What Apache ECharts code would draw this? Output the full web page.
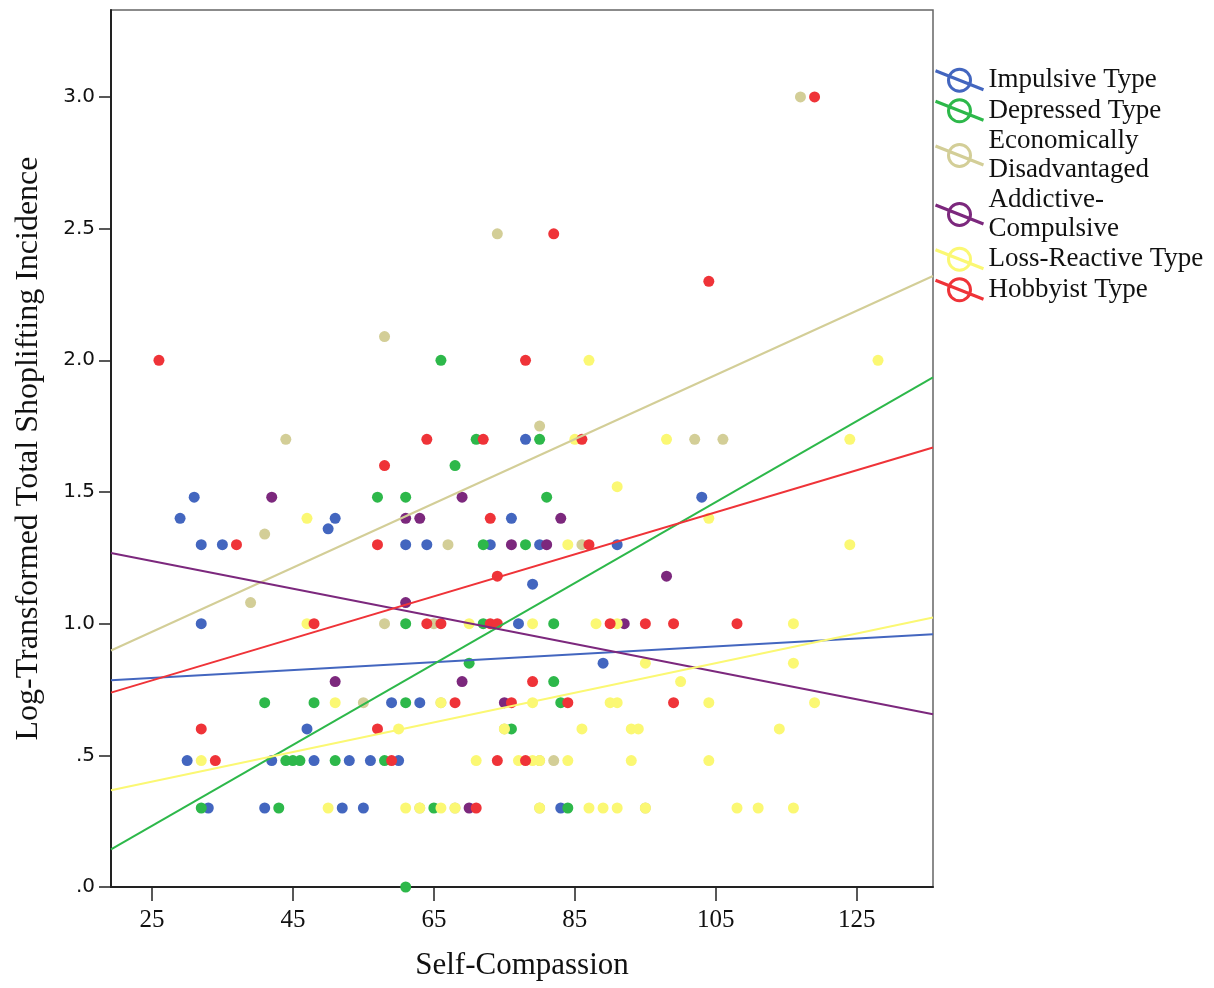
<!DOCTYPE html>
<html><head><meta charset="utf-8">
<script src="https://cdn.jsdelivr.net/npm/echarts@6/dist/echarts.min.js"></script>
<style>html,body{margin:0;padding:0;background:#fff}#c{width:1214px;height:988px}</style>
</head><body><div id="c"></div>
<script>
// ---- data ----
const seriesNames = ['Impulsive Type','Depressed Type','Economically Disadvantaged','Addictive-Compulsive','Loss-Reactive Type','Hobbyist Type'];
const legendLabels = ['Impulsive Type','Depressed Type','Economically\nDisadvantaged','Addictive-\nCompulsive','Loss-Reactive Type','Hobbyist Type'];
const seriesColors = ['#4366BF','#2DB84A','#D3CE97','#7C287D','#FBF873','#EF3338'];

const impulsive = [[31,1.48],[29,1.4],[51,1.4],[50,1.36],[32,1.3],[35,1.3],[32,1.0],[78,1.7],[76,1.4],[61,1.3],[64,1.3],[73,1.3],[80,1.3],[91,1.3],[79,1.15],[77,1.0],[103,1.48],[47,0.6],[30,0.48],[42,0.48],[48,0.48],[53,0.48],[56,0.48],[33,0.3],[41,0.3],[52,0.3],[55,0.3],[89,0.85],[59,0.7],[63,0.7],[60,0.48],[83,0.3]];
const depressed = [[66,2.0],[57,1.48],[71,1.7],[80,1.7],[68,1.6],[61,1.48],[81,1.48],[72,1.3],[78,1.3],[61,1.0],[72,1.0],[82,1.0],[41,0.7],[48,0.7],[44,0.48],[45,0.48],[46,0.48],[51,0.48],[58,0.48],[32,0.3],[43,0.3],[70,0.85],[82,0.78],[61,0.7],[83,0.7],[76,0.6],[65,0.3],[84,0.3],[61,0.0]];
const economic = [[58,2.09],[74,2.48],[117,3.0],[44,1.7],[41,1.34],[39,1.08],[58,1.0],[80,1.75],[67,1.3],[86,1.3],[102,1.7],[106,1.7],[55,0.7],[66,0.7],[82,0.48],[80,0.48],[63,0.3],[68,0.3],[80,0.3],[95,0.3],[65,1.0],[75,0.6]];
const addictive = [[42,1.48],[69,1.48],[61,1.4],[63,1.4],[83,1.4],[76,1.3],[81,1.3],[98,1.18],[61,1.08],[92,1.0],[51,0.78],[69,0.78],[75,0.7],[70,0.3]];
const lossReactive = [[87,2.0],[128,2.0],[47,1.4],[47,1.0],[85,1.7],[98,1.7],[91,1.52],[84,1.3],[70,1.0],[79,1.0],[88,1.0],[91,1.0],[124,1.7],[104,1.4],[124,1.3],[116,1.0],[32,0.48],[50,0.3],[51,0.7],[95,0.85],[66,0.7],[79,0.7],[90,0.7],[91,0.7],[60,0.6],[75,0.6],[86,0.6],[93,0.6],[94,0.6],[71,0.48],[77,0.48],[79,0.48],[80,0.48],[84,0.48],[93,0.48],[61,0.3],[63,0.3],[66,0.3],[68,0.3],[80,0.3],[87,0.3],[89,0.3],[91,0.3],[95,0.3],[116,0.85],[100,0.78],[104,0.7],[119,0.7],[114,0.6],[104,0.48],[108,0.3],[111,0.3],[116,0.3]];
const hobbyist = [[26,2.0],[82,2.48],[78,2.0],[119,3.0],[104,2.3],[58,1.6],[57,1.3],[37,1.3],[48,1.0],[64,1.7],[72,1.7],[86,1.7],[73,1.4],[87,1.3],[74,1.18],[64,1.0],[66,1.0],[73,1.0],[74,1.0],[90,1.0],[95,1.0],[99,1.0],[108,1.0],[32,0.6],[57,0.6],[34,0.48],[79,0.78],[68,0.7],[76,0.7],[84,0.7],[59,0.48],[74,0.48],[78,0.48],[71,0.3],[99,0.7]];

// fit lines: [xStart, yStart, xEnd, yEnd]
const fitImpulsive = [19.2,0.785,135.8,0.96];
const fitDepressed = [19.2,0.143,135.8,1.935];
const fitEconomic = [19.2,0.898,135.8,2.32];
const fitAddictive = [19.2,1.268,135.8,0.656];
const fitLoss = [19.2,0.367,135.8,1.023];
const fitHobbyist = [19.2,0.738,135.8,1.669];

const xTicks = [25,45,65,85,105,125];
const yTicks = [0,0.5,1.0,1.5,2.0,2.5,3.0];
const yTickLabels = ['.0','.5','1.0','1.5','2.0','2.5','3.0'];
const xMin = 19.2, xMax = 135.8, yMin = 0, yMax = 3.33;

// ---- build ----
const pointSets = [impulsive, depressed, economic, addictive, lossReactive, hobbyist];
const fitSets = [fitImpulsive, fitDepressed, fitEconomic, fitAddictive, fitLoss, fitHobbyist];
const legendIcon = 'path://M1 2.5 L49 21.5 M14 12 A11 11 0 1 1 36 12 A11 11 0 1 1 14 12 Z';

const series = [];
pointSets.forEach((pts, i) => {
  series.push({
    name: seriesNames[i], type: 'scatter', data: pts, symbolSize: 11,
    itemStyle: { color: seriesColors[i], opacity: 1 }, z: 2
  });
});
fitSets.forEach((f, i) => {
  series.push({
    name: seriesNames[i], type: 'line', data: [[f[0], f[1]], [f[2], f[3]]],
    showSymbol: false, symbol: 'none', silent: true,
    lineStyle: { color: seriesColors[i], width: 2 }, z: 3
  });
});

const chart = echarts.init(document.getElementById('c'), null, { renderer: 'canvas' });
chart.setOption({
  animation: false,
  backgroundColor: '#fff',
  grid: { left: 111, right: 281, top: 10, bottom: 101, show: true, borderColor: '#666', borderWidth: 1.5, backgroundColor: 'transparent' },
  legend: {
    orient: 'vertical', left: 934, top: 66, itemGap: 2, itemWidth: 48, itemHeight: 22,
    selectedMode: false, padding: 0,
    data: seriesNames.map((n, i) => ({
      name: n, icon: legendIcon,
      itemStyle: { color: 'rgba(0,0,0,0)', borderColor: seriesColors[i], borderWidth: 3 }
    })),
    formatter: n => legendLabels[seriesNames.indexOf(n)],
    textStyle: { fontFamily: 'Liberation Serif', fontSize: 27, lineHeight: 28.5, color: '#111' }
  },
  xAxis: {
    type: 'value', min: xMin, max: xMax,
    name: 'Self-Compassion', nameLocation: 'middle', nameGap: 63,
    nameTextStyle: { fontFamily: 'Liberation Serif', fontSize: 31, color: '#111' },
    axisLine: { show: true, lineStyle: { color: '#222', width: 2 } },
    axisTick: { show: true, length: 14, customValues: xTicks, lineStyle: { color: '#222', width: 1.5 } },
    axisLabel: { customValues: xTicks, margin: 21, fontFamily: 'Liberation Serif', fontSize: 25, color: '#111' },
    splitLine: { show: false }
  },
  yAxis: {
    type: 'value', min: yMin, max: yMax,
    name: 'Log-Transformed Total Shoplifting Incidence', nameLocation: 'middle', nameGap: 66,
    nameTextStyle: { fontFamily: 'Liberation Serif', fontSize: 32, color: '#111' },
    axisLine: { show: true, lineStyle: { color: '#222', width: 2 } },
    axisTick: { show: true, length: 12, customValues: yTicks, lineStyle: { color: '#222', width: 1.5 } },
    axisLabel: {
      customValues: yTicks, margin: 16, fontFamily: 'DejaVu Sans', fontSize: 20, color: '#111',
      formatter: v => { const k = yTicks.findIndex(t => Math.abs(t - v) < 1e-6); return k >= 0 ? yTickLabels[k] : ''; }
    },
    splitLine: { show: false }
  },
  series: series
});
</script>
</body></html>
